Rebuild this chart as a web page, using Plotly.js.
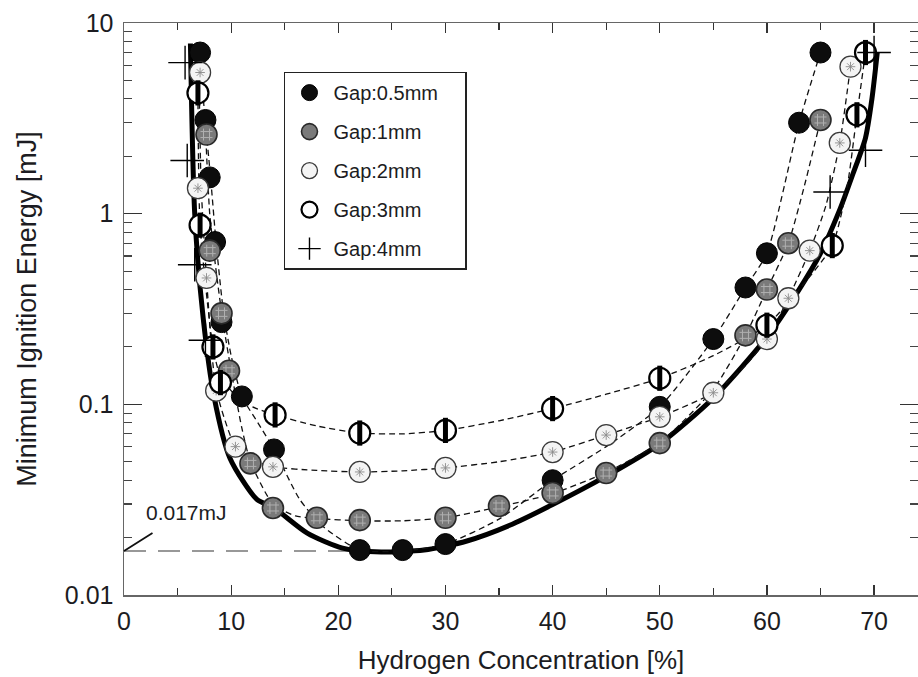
<!DOCTYPE html>
<html>
<head>
<meta charset="utf-8">
<script src="https://cdn.plot.ly/plotly-3.0.1.min.js"></script>
<style>html,body{margin:0;padding:0;background:#fff;}#chart{width:918px;height:677px;}</style>
</head>
<body>
<div id="chart"></div>
<script>
// ---- data ----
const seriesNames = ['Gap:0.5mm', 'Gap:1mm', 'Gap:2mm', 'Gap:3mm', 'Gap:4mm'];

const gap05X = [7.1, 7.6, 8.0, 8.5, 9.1, 11.0, 14.0, 22.0, 26.0, 30.0, 40.0, 50.0, 55.0, 58.0, 60.0, 63.0, 65.0];
const gap05Y = [7.0, 3.1, 1.55, 0.71, 0.27, 0.11, 0.058, 0.0172, 0.0172, 0.0185, 0.040, 0.097, 0.22, 0.41, 0.62, 3.0, 7.0];

const gap1X = [7.7, 8.0, 9.1, 9.8, 11.8, 13.9, 18.0, 22.0, 30.0, 35.0, 40.0, 45.0, 50.0, 58.0, 60.0, 62.0, 65.0];
const gap1Y = [2.6, 0.64, 0.30, 0.15, 0.049, 0.0286, 0.0254, 0.0247, 0.0254, 0.0293, 0.0343, 0.0436, 0.0626, 0.23, 0.40, 0.70, 3.1];

const gap2X = [7.1, 6.9, 7.7, 8.6, 10.4, 13.9, 22.0, 30.0, 40.0, 45.0, 50.0, 55.0, 60.0, 62.0, 64.0, 66.8, 67.8];
const gap2Y = [5.5, 1.36, 0.46, 0.118, 0.060, 0.047, 0.0442, 0.0464, 0.0562, 0.069, 0.086, 0.115, 0.22, 0.36, 0.64, 2.35, 5.9];

const gap3X = [6.9, 7.1, 8.3, 9.0, 14.1, 22.0, 30.0, 40.0, 50.0, 60.0, 66.1, 68.4, 69.2];
const gap3Y = [4.3, 0.87, 0.20, 0.13, 0.088, 0.0707, 0.073, 0.095, 0.137, 0.26, 0.68, 3.3, 7.0];

const gap4X = [5.7, 5.9, 6.6, 7.6, 65.9, 69.2, 70.0];
const gap4Y = [6.2, 1.9, 0.54, 0.217, 1.3, 2.15, 7.0];

// envelope (thick solid curve)
const envX = [6.2, 6.6, 7.4, 8.4, 9.9, 12.4, 14.0, 17.1, 20.4, 24.0, 28.0, 32.0, 36.0, 40.0, 45.0, 50.0, 55.0, 60.0, 63.0, 65.0, 66.8, 68.0, 69.2, 69.8, 70.3];
const envY = [7.8, 1.0, 0.28, 0.11, 0.052, 0.0317, 0.0286, 0.0211, 0.0176, 0.0168, 0.0172, 0.0192, 0.0232, 0.0298, 0.042, 0.062, 0.108, 0.225, 0.40, 0.62, 1.05, 1.6, 2.5, 4.0, 7.0];

// dashed fit curves per gap
const fit05X = [7.0, 7.6, 8.1, 8.6, 9.3, 10.0, 11.0, 12.5, 14.0, 16.4, 18.6, 22.0, 26.0, 30.0, 35.0, 40.0, 45.0, 50.0, 55.0, 58.0, 60.0, 63.0, 65.0];
const fit05Y = [7.2, 3.0, 1.5, 0.7, 0.3, 0.18, 0.11, 0.08, 0.058, 0.0317, 0.0228, 0.0172, 0.0170, 0.0185, 0.025, 0.040, 0.06, 0.097, 0.22, 0.41, 0.62, 3.0, 7.0];

const fit1X = [7.6, 8.0, 8.6, 9.2, 10.0, 11.0, 11.8, 13.9, 16.0, 18.0, 22.0, 26.0, 30.0, 35.0, 40.0, 45.0, 50.0, 55.0, 58.0, 60.0, 62.0, 63.5, 65.0];
const fit1Y = [2.8, 1.0, 0.5, 0.28, 0.15, 0.075, 0.05, 0.03, 0.026, 0.0252, 0.0245, 0.0245, 0.0254, 0.029, 0.034, 0.044, 0.063, 0.12, 0.23, 0.40, 0.70, 1.4, 3.1];

const fit2X = [7.0, 7.2, 7.7, 8.6, 10.4, 12.0, 13.9, 18.0, 22.0, 26.0, 30.0, 35.0, 40.0, 45.0, 50.0, 55.0, 58.0, 60.0, 62.0, 64.0, 65.5, 66.8, 67.8];
const fit2Y = [5.5, 1.4, 0.46, 0.12, 0.06, 0.051, 0.047, 0.045, 0.0442, 0.0448, 0.0464, 0.05, 0.0562, 0.069, 0.086, 0.115, 0.16, 0.22, 0.36, 0.64, 1.1, 2.35, 5.9];

const fit3X = [6.9, 7.1, 8.3, 9.0, 10.5, 12.0, 14.1, 18.0, 22.0, 26.0, 30.0, 35.0, 40.0, 45.0, 50.0, 55.0, 60.0, 63.0, 66.1, 67.5, 68.4, 69.2];
const fit3Y = [4.3, 0.87, 0.2, 0.14, 0.11, 0.097, 0.088, 0.077, 0.0707, 0.070, 0.073, 0.082, 0.095, 0.113, 0.137, 0.18, 0.26, 0.40, 0.68, 1.4, 3.3, 7.0];

// minimum energy reference line
const minLineX = [0, 22];
const minLineY = [0.017, 0.017];
const minLabel = '0.017mJ';

const xTitle = 'Hydrogen Concentration [%]';
const yTitle = 'Minimum Ignition Energy [mJ]';
const xTickVals = [0, 10, 20, 30, 40, 50, 60, 70];
const yTickVals = [0.01, 0.1, 1, 10];
const yTickText = ['0.01', '0.1', '1', '10'];

// ---- build traces ----
const FONT = 'Liberation Sans, Arial, Helvetica, sans-serif';
const TXT = '#1c1c22';
const MS = 21;
const pad = '\u00a0'.repeat(4);

function fitTrace(x, y) {
  return {x: x, y: y, type: 'scatter', mode: 'lines', showlegend: false, hoverinfo: 'skip',
    line: {color: '#111', width: 1.3, dash: '6px,4px', shape: 'spline', smoothing: 0.6}};
}

const traces = [
  {x: minLineX, y: minLineY, type: 'scatter', mode: 'lines', showlegend: false,
   line: {color: '#777', width: 1.5, dash: '22px,12px'}},
  {x: envX, y: envY, type: 'scatter', mode: 'lines', showlegend: false,
   line: {color: '#000', width: 5, shape: 'spline', smoothing: 0.7}},
  fitTrace(fit05X, fit05Y),
  fitTrace(fit1X, fit1Y),
  fitTrace(fit2X, fit2Y),
  fitTrace(fit3X, fit3Y),
  {x: gap05X, y: gap05Y, name: seriesNames[0] + pad, legendgroup: 'g05', type: 'scatter', mode: 'markers',
   marker: {symbol: 'circle', size: MS, color: '#0d0d0d', line: {color: '#000', width: 1}}},
  {x: gap1X, y: gap1Y, name: seriesNames[1], legendgroup: 'g1', type: 'scatter', mode: 'markers',
   marker: {symbol: 'circle', size: MS, color: '#7a7a7a', line: {color: '#2a2a2a', width: 1.6}}},
  {x: gap1X, y: gap1Y, legendgroup: 'g1', showlegend: false, type: 'scatter', mode: 'markers', hoverinfo: 'skip',
   marker: {symbol: 'hash-open', size: 12, color: '#b0b0b0', line: {color: '#aaaaaa', width: 1}}},
  {x: gap2X, y: gap2Y, name: seriesNames[2], legendgroup: 'g2', type: 'scatter', mode: 'markers',
   marker: {symbol: 'circle', size: MS, color: '#f4f4f4', line: {color: '#3a3a3a', width: 1.3}}},
  {x: gap2X, y: gap2Y, legendgroup: 'g2', showlegend: false, type: 'scatter', mode: 'markers', hoverinfo: 'skip',
   marker: {symbol: 'asterisk-open', size: 8, color: '#8a8a8a', line: {color: '#999999', width: 0.9}}},
  {x: gap3X, y: gap3Y, name: seriesNames[3], legendgroup: 'g3', type: 'scatter', mode: 'markers',
   marker: {symbol: 'circle', size: MS, color: '#ffffff', line: {color: '#000', width: 2.2}}},
  {x: gap3X, y: gap3Y, legendgroup: 'g3', showlegend: false, type: 'scatter', mode: 'markers', hoverinfo: 'skip',
   marker: {symbol: 'line-ns-open', size: 18, color: '#000', line: {color: '#000', width: 5}}},
  {x: gap4X, y: gap4Y, name: seriesNames[4], legendgroup: 'g4', type: 'scatter', mode: 'markers',
   marker: {symbol: 'cross-thin-open', size: 24, color: '#000', line: {color: '#000', width: 1.4}}}
];

const layout = {
  width: 918, height: 677,
  margin: {l: 124, r: 0, t: 23, b: 82},
  paper_bgcolor: '#fff', plot_bgcolor: '#fff',
  font: {family: FONT, color: TXT, size: 20},
  showlegend: true,
  legend: {x: 0.2015, y: 0.915, xanchor: 'left', yanchor: 'top', bgcolor: '#fff',
    bordercolor: '#222', borderwidth: 1.5, font: {family: FONT, size: 20, color: TXT},
    traceorder: 'grouped', tracegroupgap: 10, itemwidth: 38},
  xaxis: {type: 'linear', range: [0, 74.1], tickvals: xTickVals, ticks: 'inside', ticklen: 10, tickwidth: 1.3,
    tickcolor: '#333', showline: true, linecolor: '#666', linewidth: 1.5, mirror: 'ticks', showgrid: false,
    zeroline: false, tickfont: {size: 25, color: TXT}, ticklabelstandoff: 3,
    minor: {dtick: 5, ticks: 'inside', ticklen: 7, tickwidth: 1.2, tickcolor: '#333', showgrid: false},
    title: {text: xTitle, font: {size: 26, color: TXT}, standoff: 17}},
  yaxis: {type: 'log', range: [-2, 1], tickvals: yTickVals, ticktext: yTickText, ticks: 'inside', ticklen: 18,
    tickwidth: 1.3, tickcolor: '#333', showline: true, linecolor: '#666', linewidth: 1.5, mirror: 'ticks',
    showgrid: false, zeroline: false, tickfont: {size: 25, color: TXT}, ticklabelstandoff: 4,
    minor: {dtick: 'D1', ticks: 'inside', ticklen: 8, tickwidth: 1.1, tickcolor: '#444', showgrid: false},
    title: {text: yTitle, font: {size: 27, color: TXT}, standoff: 20}},
  annotations: [
    {x: 5.8, y: Math.log10(0.027), xref: 'x', yref: 'y', text: minLabel, showarrow: false,
     font: {size: 21, color: TXT, family: FONT}},
    {x: 0, y: Math.log10(minLineY[0]), xref: 'x', yref: 'y', text: '', showarrow: true, arrowhead: 0,
     arrowwidth: 1.8, arrowcolor: '#111', ax: 30, ay: -19}
  ]
};

Plotly.newPlot('chart', traces, layout, {displayModeBar: false, staticPlot: true});
</script>
</body>
</html>
